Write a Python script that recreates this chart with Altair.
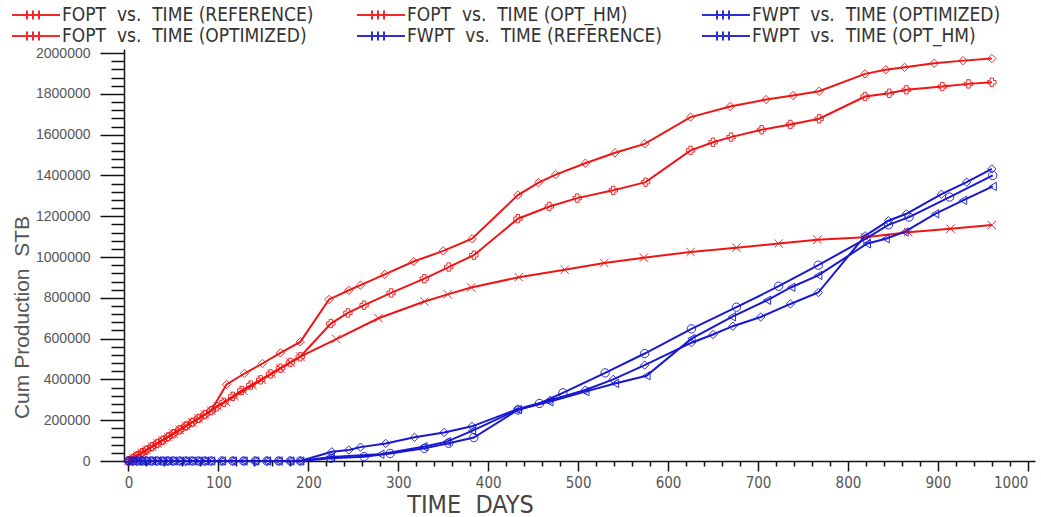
import altair as alt
import pandas as pd

# ---------------- data ----------------
RED = "#f01515"
BLUE = "#1818d0"

S_FOPT_REF = "FOPT\u00a0 vs.\u00a0 TIME (REFERENCE)"
S_FOPT_HM = "FOPT\u00a0 vs.\u00a0 TIME (OPT_HM)"
S_FWPT_OPT = "FWPT\u00a0 vs.\u00a0 TIME (OPTIMIZED)"
S_FOPT_OPT = "FOPT\u00a0 vs.\u00a0 TIME (OPTIMIZED)"
S_FWPT_REF = "FWPT\u00a0 vs.\u00a0 TIME (REFERENCE)"
S_FWPT_HM = "FWPT\u00a0 vs.\u00a0 TIME (OPT_HM)"

series_order = [S_FOPT_REF, S_FOPT_OPT, S_FOPT_HM, S_FWPT_REF, S_FWPT_OPT, S_FWPT_HM]
series_colors = [RED, RED, RED, BLUE, BLUE, BLUE]
marker_codes = ["xmark", "dia_r", "plus", "circ", "tri", "dia_b"]
series_shapes = ["M-1,-1L1,1M-1,1L1,-1", "diamond", "cross", "circle", "triangle-left", "diamond"]

# shared early part of the oil curves
early_t = [0, 5, 10, 15, 20, 26, 32, 38, 44, 50, 57, 64, 71, 78, 85, 92]
early_fopt = [0, 13500, 27000, 40500, 54000, 70000, 86000, 102000, 118000, 134000,
              153000, 172000, 190000, 209000, 228000, 247000]

fopt_ref_t = [99, 108, 118, 128, 138, 148, 159, 169, 180, 191, 231, 278, 329, 355, 381,
              434, 485, 529, 573, 625, 676, 723, 766, 819, 867, 914, 960]
fopt_ref_v = [268000, 291000, 318000, 344000, 371000, 398000, 427000, 454000, 483000, 512000,
              598000, 700000, 782000, 817000, 851000, 901000, 938000, 971000, 997000,
              1025000, 1046000, 1066000, 1085000, 1097000, 1122000, 1139000, 1157000]

fopt_opt_t = [109, 129, 149, 169, 191, 223, 245, 258, 285, 317, 350, 382, 433, 456, 475,
              508, 541, 574, 625, 669, 709, 739, 768, 819, 842, 863, 896, 928, 960]
fopt_opt_v = [375000, 429000, 478000, 530000, 584000, 792000, 837000, 862000, 915000,
              978000, 1030000, 1090000, 1304000, 1365000, 1404000, 1460000, 1511000,
              1555000, 1686000, 1738000, 1772000, 1792000, 1813000, 1898000, 1918000,
              1930000, 1950000, 1963000, 1973000]

fopt_hm_t = [98, 106, 116, 126, 136, 147, 158, 169, 180, 191, 225, 244, 262, 292, 329,
             356, 384, 433, 468, 499, 539, 575, 625, 650, 670, 704, 736, 768, 819, 846,
             865, 905, 934, 960]
fopt_hm_v = [266000, 288000, 317000, 346000, 372000, 398000, 427000, 455000, 483000,
             511000, 674000, 726000, 764000, 824000, 894000, 951000, 1009000, 1188000,
             1248000, 1289000, 1327000, 1367000, 1523000, 1563000, 1588000, 1624000,
             1650000, 1678000, 1787000, 1803000, 1820000, 1836000, 1849000, 1857000]

# water curves: zero until ~190 days
early_w_t = [0, 5, 10, 15, 20, 26, 32, 38, 44, 50, 57, 64, 71, 78, 85, 92, 104, 116,
             128, 141, 154, 167, 180, 191]
early_w_v = [0] * len(early_w_t)

fwpt_hm_t = [226, 245, 258, 286, 318, 351, 382, 433, 469, 508, 539, 574, 626, 650, 672,
             703, 736, 767, 819, 845, 865, 904, 932, 960]
fwpt_hm_v = [45000, 54000, 68000, 86000, 116000, 140000, 170000, 255000, 298000, 348000,
             400000, 470000, 580000, 620000, 661000, 706000, 770000, 826000, 1104000,
             1178000, 1212000, 1308000, 1367000, 1432000]

fwpt_ref_t = [225, 262, 291, 329, 356, 384, 433, 457, 483, 530, 574, 626, 676, 723, 767,
              820, 845, 868, 913, 961]
fwpt_ref_v = [13000, 21000, 37000, 62000, 87000, 115000, 250000, 282000, 334000, 432000,
              527000, 648000, 754000, 857000, 960000, 1090000, 1158000, 1196000, 1294000,
              1400000]

fwpt_opt_t = [225, 280, 328, 354, 382, 433, 468, 508, 541, 576, 626, 671, 710, 737, 767,
              821, 842, 863, 897, 928, 961]
fwpt_opt_v = [20000, 33000, 70000, 95000, 148000, 252000, 290000, 340000, 380000, 418000,
              600000, 707000, 788000, 852000, 910000, 1065000, 1090000, 1123000, 1212000,
              1278000, 1346000]

x_ticks = list(range(0, 1001, 20))
y_ticks = list(range(0, 2000001, 40000))

# ---------------- build table ----------------
color_of = dict(zip(series_order, series_colors))
marker_of = dict(zip(series_order, marker_codes))
rows = []
def add(name, ts, vs):
    for t, v in zip(ts, vs):
        rows.append({"series": name, "marker": marker_of[name], "pcolor": color_of[name],
                     "time": t, "value": v})

add(S_FOPT_REF, early_t + fopt_ref_t, early_fopt + fopt_ref_v)
add(S_FOPT_OPT, early_t + fopt_opt_t, early_fopt + fopt_opt_v)
add(S_FOPT_HM, early_t + fopt_hm_t, early_fopt + fopt_hm_v)
add(S_FWPT_HM, early_w_t + fwpt_hm_t, early_w_v + fwpt_hm_v)
add(S_FWPT_REF, early_w_t + fwpt_ref_t, early_w_v + fwpt_ref_v)
add(S_FWPT_OPT, early_w_t + fwpt_opt_t, early_w_v + fwpt_opt_v)
df = pd.DataFrame(rows)

NARROW = "'Liberation Sans Narrow', 'DejaVu Sans Condensed', sans-serif"
SANS = "'Liberation Sans', Arial, sans-serif"

x_scale = alt.Scale(domain=[-5, 1008], nice=False, zero=False)
y_scale = alt.Scale(domain=[0, 2020000], nice=False)

x_axis = alt.Axis(
    values=x_ticks, tickCount=200, format="d",
    labelExpr="datum.value % 100 === 0 ? datum.label : ''",
    labelOverlap=False, labelFlush=False, grid=False,
    labelAlign={"condition": {"test": "datum.value === 1000", "value": "right"}, "value": "center"},
    tickSize={"condition": {"test": "datum.value % 100 === 0", "value": 10}, "value": 5},
    tickColor="#111", tickWidth=1.5, domainColor="#111", domainWidth=1.5,
    labelFont=NARROW, labelFontSize=15, labelColor="#555", labelPadding=4,
    title="TIME\u00a0 DAYS", titleFont=NARROW, titleFontSize=25, titleFontWeight="normal",
    titleColor="#444", titleX=346, titleY=43, titleBaseline="middle", titleAnchor="middle",
)
y_axis = alt.Axis(
    values=y_ticks, tickCount=200, format="d",
    labelExpr="datum.value % 200000 === 0 ? datum.label : ''",
    labelOverlap=False, labelFlush=False, grid=False,
    tickSize={"condition": {"test": "datum.value % 200000 === 0", "value": 24}, "value": 13},
    tickColor="#111", tickWidth=1.5, domainColor="#111", domainWidth=1.5,
    labelFont=SANS, labelFontSize=14, labelColor="#555", labelPadding=10,
    title="Cum Production\u00a0 STB", titleFont=SANS, titleFontSize=21, titleFontWeight="normal",
    titleColor="#555", titleX=-102, titleY=268, titleBaseline="middle", titleAnchor="middle",
    titleAngle=270,
)

color = alt.Color(
    "series:N",
    scale=alt.Scale(domain=series_order, range=series_colors),
    legend=alt.Legend(
        title=None, orient="none", legendX=-99, legendY=-45, columns=3,
        gridAlign="all", columnPadding=36, rowPadding=0, padding=0,
        symbolType="M-2.4,0H2.4M-0.9,-0.45V0.45M-0.3,-0.45V0.45M0.3,-0.45V0.45",
        symbolSize=400, symbolStrokeWidth=2, symbolFillColor="transparent",
        labelFont=NARROW, labelFontSize=19, labelColor="#333", labelLimit=400,
        labelOffset=15,
    ),
)

base = alt.Chart(df)
lines = base.mark_line(strokeWidth=2).encode(
    x=alt.X("time:Q", scale=x_scale, axis=x_axis),
    y=alt.Y("value:Q", scale=y_scale, axis=y_axis),
    color=color,
    detail="series:N",
)
points = base.mark_point(filled=False, size=70, strokeWidth=1, opacity=0.9).encode(
    x="time:Q",
    y="value:Q",
    color=alt.Color("pcolor:N", scale=None),
    shape=alt.Shape(
        "marker:N",
        scale=alt.Scale(domain=marker_codes, range=series_shapes),
        legend=None,
    ),
)

chart = alt.layer(lines, points).properties(
    width=911, height=412,
    padding={"left": 124, "top": 49, "right": 6, "bottom": 56},
    autosize=alt.AutoSizeParams(type="none"),
    background="white",
).configure_view(stroke=None)

chart.save("out.html", embed_options={"renderer": "svg", "actions": False})
